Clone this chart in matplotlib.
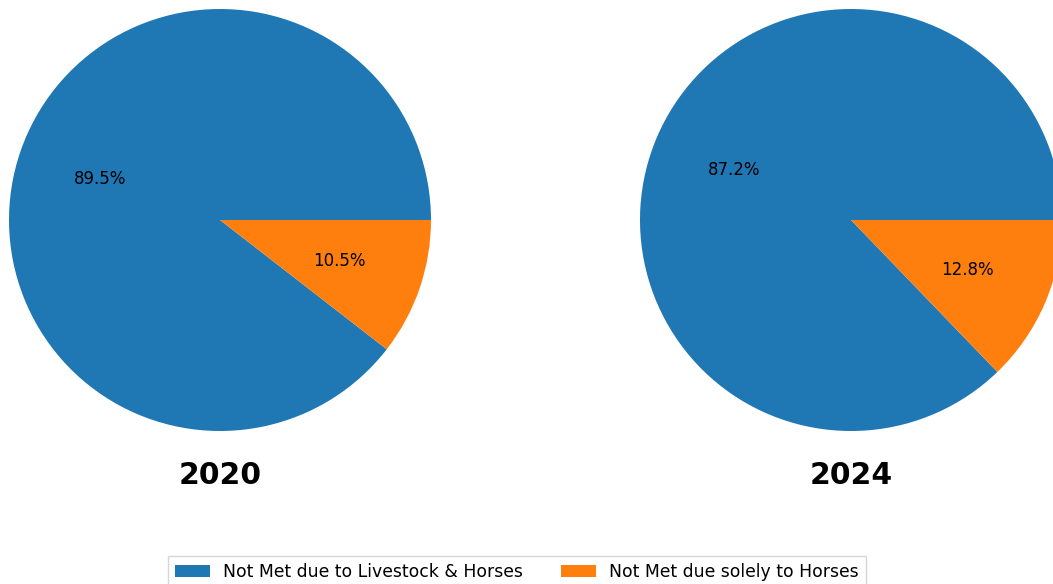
import matplotlib.pyplot as plt

# Data
years = ["2020", "2024"]
labels = ["Not Met due to Livestock & Horses", "Not Met due solely to Horses"]
shares_2020 = [89.5, 10.5]
shares_2024 = [87.2, 12.8]
colors = ["#1f77b4", "#ff7f0e"]

W, H = 1053, 584
fig = plt.figure(figsize=(W / 100, H / 100), dpi=100)

# pie centres and radius in pixels
centres = [(220, 220), (851, 220)]
r = 211

wedges = None
for (cx, cy), yr, vals in zip(centres, years, [shares_2020, shares_2024]):
    ax = fig.add_axes([(cx - r) / W, (H - cy - r) / H, 2 * r / W, 2 * r / H])
    wedges, texts, autotexts = ax.pie(vals, colors=colors, autopct="%1.1f%%",
                                      textprops={"fontsize": 12})
    ax.set_xlim(-1.0, 1.0)
    ax.set_ylim(-1.0, 1.0)
    ax.set_aspect("equal")
    ax.axis("off")
    fig.text(cx / W, 1 - 476 / H, yr, ha="center", va="center",
             fontsize=21.5, fontweight="bold")

fig.legend(wedges, labels, loc="upper center", ncol=2, fontsize=12.4,
           bbox_to_anchor=(517 / W, 1 - 556 / H), fancybox=False,
           borderaxespad=0, columnspacing=2.2)

plt.savefig("out.png", dpi=100)
